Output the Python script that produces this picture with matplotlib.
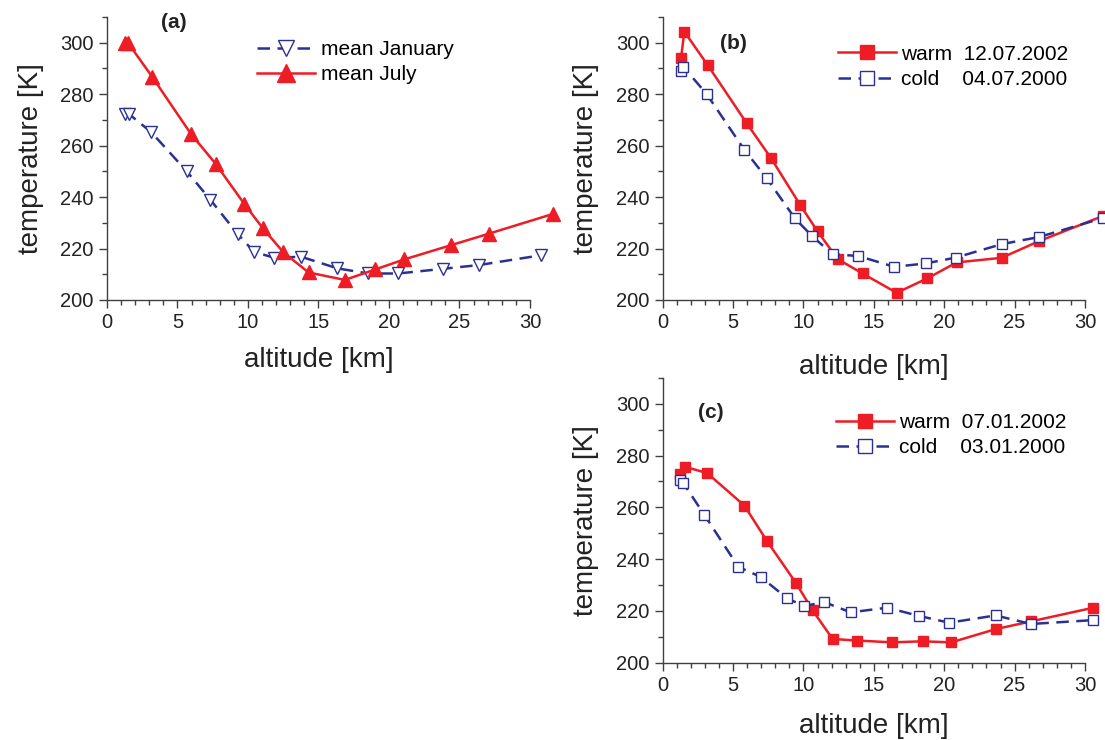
import matplotlib
matplotlib.use('Agg')
import matplotlib.pyplot as plt
from matplotlib.ticker import MultipleLocator

plt.rcParams['font.family'] = ['Liberation Sans', 'DejaVu Sans']

RED = '#ee1c24'
BLUE = '#2b3190'

# (a) monthly means
jan_alt = [1.29, 1.53, 3.13, 5.66, 7.33, 9.29, 10.44, 11.87, 13.78, 16.34, 18.54, 20.65, 23.8, 26.4, 30.8]
jan_temp = [272.4, 272.4, 265.3, 250.0, 239.0, 225.5, 218.7, 216.4, 216.8, 212.3, 210.3, 210.3, 212.1, 213.6, 217.4]
jul_alt = [1.25, 1.5, 3.2, 5.95, 7.7, 9.72, 11.04, 12.52, 14.3, 16.87, 19.04, 21.1, 24.4, 27.1, 31.6]
jul_temp = [300.0, 299.9, 286.8, 264.6, 253.0, 237.5, 228.0, 218.5, 210.7, 207.8, 211.9, 215.8, 221.3, 225.8, 233.4]

# (b) July cases
b_warm_alt = [1.30, 1.54, 3.2, 5.97, 7.69, 9.75, 11.0, 12.43, 14.2, 16.62, 18.8, 20.88, 24.08, 26.7, 31.25]
b_warm_temp = [293.9, 304.3, 291.3, 268.7, 255.2, 237.1, 226.7, 215.9, 210.3, 202.8, 208.4, 214.6, 216.4, 222.8, 232.6]
b_cold_alt = [1.3, 1.46, 3.12, 5.8, 7.38, 9.4, 10.62, 12.07, 13.9, 16.45, 18.68, 20.83, 24.08, 26.75, 31.3]
b_cold_temp = [289.1, 290.7, 280.1, 258.4, 247.4, 231.7, 224.8, 217.8, 217.1, 212.9, 214.2, 216.5, 221.7, 224.5, 231.9]

# (c) January cases
c_warm_alt = [1.23, 1.58, 3.17, 5.8, 7.43, 9.45, 10.65, 12.07, 13.82, 16.3, 18.47, 20.5, 23.65, 26.16, 30.6]
c_warm_temp = [272.7, 275.7, 273.2, 260.7, 246.8, 230.9, 220.2, 209.1, 208.5, 207.8, 208.2, 207.8, 212.9, 215.9, 221.2]
c_cold_alt = [1.23, 1.46, 2.95, 5.37, 6.96, 8.85, 10.04, 11.46, 13.35, 15.95, 18.22, 20.35, 23.65, 26.16, 30.6]
c_cold_temp = [270.4, 269.4, 257.2, 237.0, 233.1, 224.8, 221.8, 223.4, 219.4, 221.2, 218.0, 215.4, 218.2, 214.9, 216.4]


def style_axes(ax, label, label_xy, xpad):
    ax.patch.set_visible(False)
    for s in ['top', 'right']:
        ax.spines[s].set_visible(False)
    for s in ['left', 'bottom']:
        ax.spines[s].set_color('#404040')
        ax.spines[s].set_linewidth(1.0)
    ax.set_xlim(0, 30)
    ax.set_ylim(200, 310)
    ax.xaxis.set_major_locator(MultipleLocator(5))
    ax.xaxis.set_minor_locator(MultipleLocator(1))
    ax.yaxis.set_major_locator(MultipleLocator(20))
    ax.yaxis.set_minor_locator(MultipleLocator(10))
    ax.tick_params(which='both', direction='out', color='#404040', labelsize=14.5,
                   labelcolor='#222222', width=1.0)
    ax.tick_params(which='major', length=6)
    ax.tick_params(which='minor', length=3.5)
    ax.set_xlabel('altitude [km]', fontsize=20, color='#222222', labelpad=xpad)
    ax.set_ylabel('temperature [K]', fontsize=20, color='#222222', labelpad=12)
    ax.text(label_xy[0], label_xy[1], label, transform=ax.transAxes, fontsize=15,
            fontweight='bold', color='#222222', va='center', ha='left')


def add_legend(ax, anchor):
    ax.legend(loc='upper left', bbox_to_anchor=anchor, frameon=False, fontsize=15,
              handlelength=2.8, handletextpad=0.25, labelspacing=0.3,
              borderpad=0, borderaxespad=0, markerscale=1.35)


fig = plt.figure(figsize=(11.05, 7.4), dpi=100)
ax_a = fig.add_axes([0.0968, 0.5946, 0.3828, 0.3824])
ax_b = fig.add_axes([0.5997, 0.5946, 0.3822, 0.3824])
ax_c = fig.add_axes([0.5997, 0.1047, 0.3822, 0.3845])

line_kw = dict(linewidth=1.8, clip_on=False, zorder=3)
dash = (5, 3)

# panel (a)
ax_a.plot(jan_alt, jan_temp, color=BLUE, linestyle='--', dashes=dash, marker='v', markersize=9,
          markerfacecolor='white', markeredgecolor=BLUE, markeredgewidth=1.0,
          label='mean January', **line_kw)
ax_a.plot(jul_alt, jul_temp, color=RED, marker='^', markersize=9.5, markerfacecolor=RED,
          markeredgecolor=RED, label='mean July', **line_kw)
style_axes(ax_a, '(a)', (0.128, 0.979), 11)
add_legend(ax_a, (0.355, 0.918))

# panel (b)
ax_b.plot(b_warm_alt, b_warm_temp, color=RED, marker='s', markersize=7, markerfacecolor=RED,
          markeredgecolor=RED, label='warm  12.07.2002', **line_kw)
ax_b.plot(b_cold_alt, b_cold_temp, color=BLUE, linestyle='--', dashes=dash, marker='s', markersize=7,
          markerfacecolor='white', markeredgecolor=BLUE, markeredgewidth=1.0,
          label='cold    04.07.2000', **line_kw)
style_axes(ax_b, '(b)', (0.136, 0.908), 16)
add_legend(ax_b, (0.415, 0.902))

# panel (c)
ax_c.plot(c_warm_alt, c_warm_temp, color=RED, marker='s', markersize=7, markerfacecolor=RED,
          markeredgecolor=RED, label='warm  07.01.2002', **line_kw)
ax_c.plot(c_cold_alt, c_cold_temp, color=BLUE, linestyle='--', dashes=dash, marker='s', markersize=7,
          markerfacecolor='white', markeredgecolor=BLUE, markeredgewidth=1.0,
          label='cold    03.01.2000', **line_kw)
style_axes(ax_c, '(c)', (0.084, 0.877), 13)
add_legend(ax_c, (0.41, 0.877))

fig.savefig('out.png', dpi=100)
